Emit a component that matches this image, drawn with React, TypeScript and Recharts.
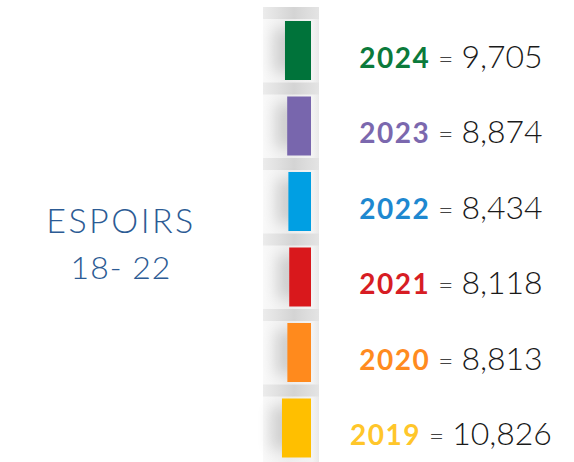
import { BarChart, Bar, XAxis, YAxis, LabelList } from 'recharts';

const years = ['2024', '2023', '2022', '2021', '2020', '2019'];
const counts = [9705, 8874, 8434, 8118, 8813, 10826];
const barColors = ['#00733a', '#7866ad', '#009fe3', '#d9181c', '#ff8a1d', '#ffbf00'];
const yearColors = ['#0b7a3b', '#7b68ae', '#1e88d0', '#d71d24', '#ff8b1f', '#ffc62a'];

const rows = years.map((year, i) => ({
  year,
  value: counts[i],
}));

// bar drawn on a light grey card with a soft shadow to its left
const CardBar = (props: any) => {
  const { x, y, width, height, index } = props;
  const right = Math.max(x, x + width);
  const bw = Math.abs(width);
  return (
    <g>
      <rect x={right - 48} y={y - 14} width={56} height={height + 28} fill="url(#cardGrad)" />
      <rect x={right - 48} y={y - 14} width={56} height={12} fill="url(#seamGrad)" />
      <rect
        x={right - bw - 12}
        y={y + 8}
        width={bw + 2}
        height={height - 16}
        fill="#000"
        opacity={0.13}
        filter="url(#soft)"
      />
      <rect x={right - bw} y={y} width={bw} height={height} fill={barColors[index]} />
    </g>
  );
};

const RowLabel = (props: any) => {
  const { x, y, width, height, index } = props;
  const right = Math.max(x, x + width);
  return (
    <text
      x={right + 140}
      y={y + height / 2 + 17}
      textAnchor="middle"
      fontFamily="Lato, sans-serif"
    >
      <tspan fontSize={28} fontWeight={700} letterSpacing={1.5} fill={yearColors[index]}>
        {years[index]}
      </tspan>
      <tspan fontSize={26} fontWeight={300} fill="#444" dx={8}>
        =
      </tspan>
      <tspan fontSize={32} fontWeight={300} fill="#1a1a1a" dx={8}>
        {counts[index].toLocaleString('en-US')}
      </tspan>
    </text>
  );
};

export default function App() {
  return (
    <div
      style={{
        position: 'absolute',
        left: 0,
        top: 0,
        width: 574,
        height: 462,
        overflow: 'hidden',
        background: '#fff',
      }}
    >
      <BarChart
        width={574}
        height={466}
        data={rows}
        layout="vertical"
        margin={{ top: 13, right: 263, bottom: 0, left: 0 }}
      >
        <defs>
          <linearGradient id="cardGrad" x1="0" y1="0" x2="1" y2="0">
            <stop offset="0%" stopColor="#f9f9f9" />
            <stop offset="45%" stopColor="#eeeeee" />
            <stop offset="88%" stopColor="#f3f3f3" />
            <stop offset="100%" stopColor="#e9e9e9" />
          </linearGradient>
          <linearGradient id="seamGrad" x1="0" y1="0" x2="1" y2="0">
            <stop offset="0%" stopColor="#ececec" />
            <stop offset="55%" stopColor="#d4d4d4" />
            <stop offset="100%" stopColor="#e4e4e4" />
          </linearGradient>
          <filter id="soft" x="-100%" y="-50%" width="300%" height="200%">
            <feGaussianBlur stdDeviation="7" />
          </filter>
        </defs>
        <XAxis type="number" domain={[0, 116000]} reversed hide />
        <YAxis type="category" dataKey="year" hide />
        <Bar dataKey="value" barSize={59} shape={CardBar} isAnimationActive={false}>
          <LabelList dataKey="value" content={RowLabel} />
        </Bar>
      </BarChart>
      <div
        style={{
          position: 'absolute',
          left: 21,
          top: 196,
          width: 200,
          textAlign: 'center',
          color: '#2c5b94',
          fontFamily: 'Lato, sans-serif',
          fontWeight: 300,
          lineHeight: '47px',
        }}
      >
        <div style={{ fontSize: 34, letterSpacing: 2.5 }}>ESPOIRS</div>
        <div style={{ fontSize: 32, letterSpacing: 1 }}>18- 22</div>
      </div>
    </div>
  );
}
